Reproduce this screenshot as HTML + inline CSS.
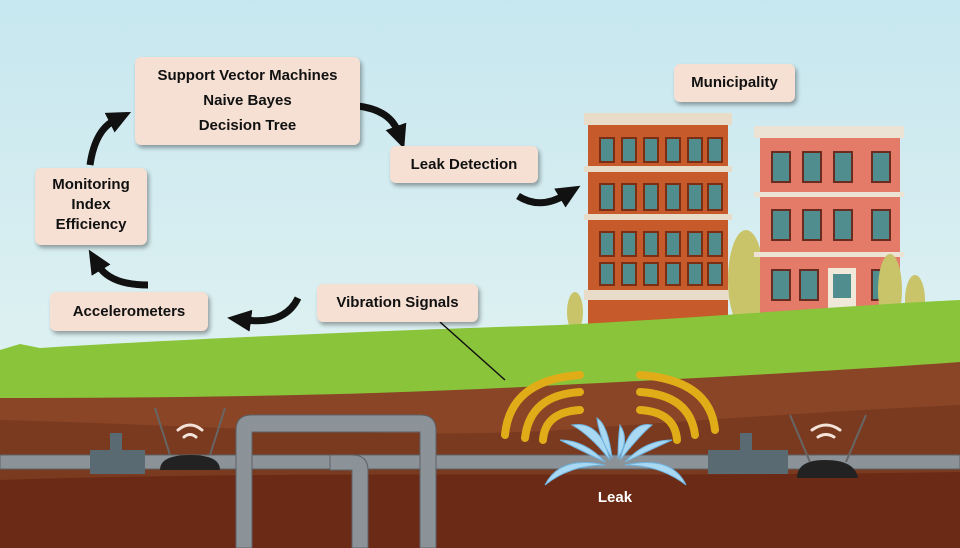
<!DOCTYPE html>
<html><head><meta charset="utf-8"><style>
body{margin:0;width:960px;height:548px;overflow:hidden;font-family:"Liberation Sans",sans-serif}
.b{position:absolute;background:#f5e0d3;border-radius:6px;box-shadow:2px 3px 4px rgba(0,0,0,.35);color:#111;font-size:15px;text-align:center;line-height:23px;font-weight:bold}
</style></head><body>
<svg width="960" height="548" style="position:absolute;left:0;top:0">
<defs><linearGradient id="sky" x1="0" y1="0" x2="0" y2="1"><stop offset="0" stop-color="#c7e7f0"/><stop offset="1" stop-color="#eaf6f2"/></linearGradient>
<marker id="ah" markerUnits="userSpaceOnUse" markerWidth="26" markerHeight="26" refX="6" refY="13" orient="auto"><path d="M0,2L24,13L0,24z" fill="#111"/></marker></defs>
<rect width="960" height="548" fill="url(#sky)"/>
<!-- buildings -->
<rect x="588" y="115" width="140" height="215" fill="#c65a2a"/>
<rect x="584" y="113" width="148" height="12" fill="#e8dcc8"/>
<rect x="584" y="166" width="148" height="6" fill="#e8dcc8"/>
<rect x="584" y="214" width="148" height="6" fill="#e8dcc8"/>
<rect x="584" y="290" width="148" height="10" fill="#e8dcc8"/>
<g fill="#4f8d8f" stroke="#7a2e14" stroke-width="2">
<rect x="600" y="138" width="14" height="24"/><rect x="622" y="138" width="14" height="24"/><rect x="644" y="138" width="14" height="24"/><rect x="666" y="138" width="14" height="24"/><rect x="688" y="138" width="14" height="24"/><rect x="708" y="138" width="14" height="24"/>
<rect x="600" y="184" width="14" height="26"/><rect x="622" y="184" width="14" height="26"/><rect x="644" y="184" width="14" height="26"/><rect x="666" y="184" width="14" height="26"/><rect x="688" y="184" width="14" height="26"/><rect x="708" y="184" width="14" height="26"/>
<rect x="600" y="232" width="14" height="24"/><rect x="622" y="232" width="14" height="24"/><rect x="644" y="232" width="14" height="24"/><rect x="666" y="232" width="14" height="24"/><rect x="688" y="232" width="14" height="24"/><rect x="708" y="232" width="14" height="24"/>
<rect x="600" y="263" width="14" height="22"/><rect x="622" y="263" width="14" height="22"/><rect x="644" y="263" width="14" height="22"/><rect x="666" y="263" width="14" height="22"/><rect x="688" y="263" width="14" height="22"/><rect x="708" y="263" width="14" height="22"/>
</g>
<ellipse cx="746" cy="280" rx="18" ry="50" fill="#c9c46a"/>
<ellipse cx="575" cy="312" rx="8" ry="20" fill="#c9c46a"/>
<rect x="760" y="130" width="140" height="200" fill="#e37b68"/>
<rect x="754" y="126" width="150" height="12" fill="#ede3d5"/>
<rect x="754" y="192" width="150" height="5" fill="#ede3d5"/>
<rect x="754" y="252" width="150" height="5" fill="#ede3d5"/>
<g fill="#4f8d8f" stroke="#6a2c20" stroke-width="2">
<rect x="772" y="152" width="18" height="30"/><rect x="803" y="152" width="18" height="30"/><rect x="834" y="152" width="18" height="30"/><rect x="872" y="152" width="18" height="30"/>
<rect x="772" y="210" width="18" height="30"/><rect x="803" y="210" width="18" height="30"/><rect x="834" y="210" width="18" height="30"/><rect x="872" y="210" width="18" height="30"/>
<rect x="772" y="270" width="18" height="30"/><rect x="800" y="270" width="18" height="30"/><rect x="872" y="270" width="18" height="30"/>
</g>
<rect x="828" y="268" width="28" height="55" fill="#f0e8d8"/><rect x="833" y="274" width="18" height="24" fill="#4f8d8f"/>
<ellipse cx="890" cy="290" rx="12" ry="36" fill="#c9c46a"/><ellipse cx="915" cy="300" rx="10" ry="25" fill="#c9c46a"/>
<!-- grass & soil -->
<path d="M0,350 L20,344 L40,348 C200,338 400,330 560,325 C700,318 850,305 960,300 L960,548 L0,548z" fill="#8ac43a"/>
<path d="M0,398 C200,398 380,395 560,385 C700,378 850,370 960,362 L960,548 L0,548z" fill="#8a4526"/>
<path d="M0,420 C200,425 400,440 560,430 C700,420 850,410 960,405 L960,548 L0,548z" fill="#7a3a1f"/>
<path d="M0,480 C300,470 600,478 960,472 L960,548 L0,548z" fill="#6b2a15"/>
<!-- pipes -->
<g fill="#8c9398" stroke="#5b6166" stroke-width="1">
<rect x="0" y="455" width="960" height="14"/>
<path d="M236,548 V430 Q236,415 252,415 H420 Q436,415 436,430 V548 H420 V432 H252 V548z"/>
<path d="M330,455 H352 Q368,455 368,470 V548 H352 V470 H330z"/>
</g>
<rect x="90" y="450" width="55" height="24" fill="#5a6a73"/><rect x="110" y="433" width="12" height="18" fill="#5a6a73"/>
<rect x="708" y="450" width="80" height="24" fill="#5a6a73"/><rect x="740" y="433" width="12" height="18" fill="#5a6a73"/>
<path d="M160,470 Q160,455 190,455 Q220,455 220,470z" fill="#222"/><path d="M155,408 L170,455 M225,408 L210,455" stroke="#666" stroke-width="2"/>
<path d="M797,478 Q797,460 825,460 Q855,460 858,478z" fill="#222"/><path d="M790,415 L810,462 M866,415 L846,462" stroke="#666" stroke-width="2"/>
<g fill="none" stroke="#f3e3d8" stroke-width="3" stroke-linecap="round"><path d="M178,430 Q190,420 202,430"/><path d="M184,437 Q190,432 196,437"/><path d="M812,430 Q826,420 840,430"/><path d="M818,437 Q826,432 834,437"/></g>
<!-- waves -->
<g fill="none" stroke="#e0ad18" stroke-width="8" stroke-linecap="round">
<path d="M580,375 Q510,380 505,435"/><path d="M580,392 Q530,395 525,438"/><path d="M580,410 Q545,412 543,440"/>
<path d="M640,375 Q710,380 715,430"/><path d="M640,392 Q690,395 695,435"/><path d="M640,410 Q675,412 677,440"/>
</g>
<g fill="#a9d8f2" stroke="#6fb4e0" stroke-width="1">
<path d="M545,485 Q560,455 605,465 Q570,465 545,485z"/><path d="M686,485 Q672,455 625,465 Q660,465 686,485z"/>
<path d="M560,440 Q585,440 605,462 Q580,450 560,440z"/><path d="M672,440 Q645,440 625,462 Q650,450 672,440z"/>
<path d="M572,425 Q600,420 610,460 Q590,435 572,425z"/><path d="M652,425 Q630,420 620,460 Q640,435 652,425z"/>
<path d="M597,418 Q608,425 612,458 Q600,440 597,418z"/><path d="M620,425 Q630,440 618,458 Q618,440 620,425z"/>
</g>
<text x="615" y="502" fill="#fff" font-size="15" font-weight="bold" text-anchor="middle">Leak</text>
<line x1="440" y1="322" x2="505" y2="380" stroke="#111" stroke-width="1.5"/>
<!-- arrows -->
<g fill="none" stroke="#111" stroke-width="7" marker-end="url(#ah)">
<path d="M90,165 Q95,130 115,120"/>
<path d="M358,106 Q390,110 398,132"/>
<path d="M518,196 Q540,210 565,195"/>
<path d="M148,285 Q110,285 98,265"/>
<path d="M298,298 Q285,325 245,320"/>
</g>
</svg>
<div class="b" style="left:135px;top:57px;width:225px;height:88px;padding-top:6px;box-sizing:border-box;line-height:25px">Support Vector Machines<br>Naive Bayes<br>Decision Tree</div>
<div class="b" style="left:390px;top:146px;width:148px;height:37px;line-height:37px">Leak Detection</div>
<div class="b" style="left:674px;top:64px;width:121px;height:38px;line-height:38px">Municipality</div>
<div class="b" style="left:35px;top:168px;width:112px;height:77px;padding-top:7px;box-sizing:border-box;line-height:20px">Monitoring<br>Index<br>Efficiency</div>
<div class="b" style="left:50px;top:292px;width:158px;height:39px;line-height:39px">Accelerometers</div>
<div class="b" style="left:317px;top:284px;width:161px;height:38px;line-height:38px">Vibration Signals</div>
</body></html>
